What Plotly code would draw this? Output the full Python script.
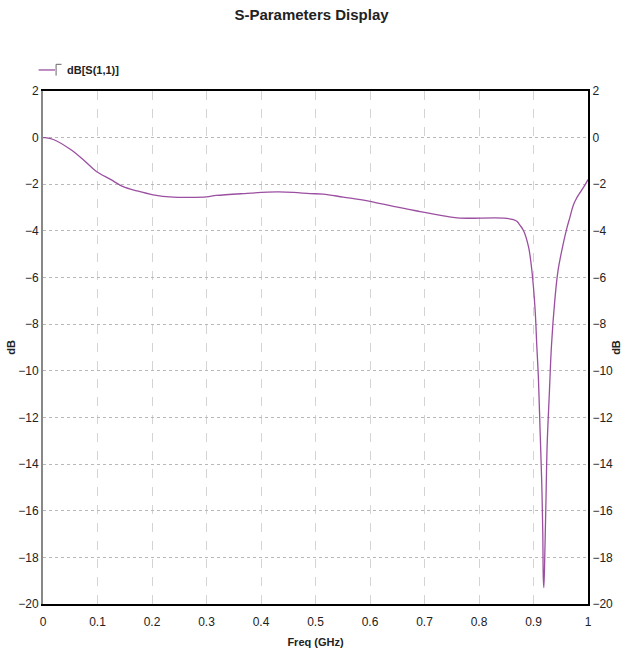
import plotly.graph_objects as go

freq = [0.0, 0.004, 0.019, 0.05, 0.074, 0.098, 0.123, 0.147, 0.172, 0.202, 0.239, 0.27, 0.3,
        0.318, 0.367, 0.429, 0.46, 0.49, 0.514, 0.551, 0.6, 0.643, 0.692, 0.741, 0.765,
        0.845, 0.863, 0.87, 0.875, 0.882, 0.891, 0.897, 0.903, 0.906, 0.909, 0.912, 0.915,
        0.917, 0.918, 0.919, 0.921, 0.923, 0.925, 0.929, 0.933, 0.939, 0.945, 0.955,
        0.961, 0.967, 0.973, 0.979, 0.994, 1.0]
s11_db = [0.0, 0.0, -0.08, -0.5, -0.95, -1.45, -1.78, -2.1, -2.28, -2.45, -2.55, -2.56, -2.54,
          -2.48, -2.4, -2.33, -2.35, -2.4, -2.42, -2.55, -2.73, -2.95, -3.17, -3.38, -3.45,
          -3.45, -3.52, -3.6, -3.75, -4.0, -4.7, -5.7, -7.4, -8.9, -10.3, -12.5, -14.7,
          -16.9, -18.9, -19.3, -17.6, -15.4, -13.2, -11.0, -8.9, -7.0, -5.7, -4.5,
          -3.9, -3.4, -2.9, -2.6, -2.05, -1.8]

x_ticks = [0, 0.1, 0.2, 0.3, 0.4, 0.5, 0.6, 0.7, 0.8, 0.9, 1.0]
x_labels = ["0", "0.1", "0.2", "0.3", "0.4", "0.5", "0.6", "0.7", "0.8", "0.9", "1"]
y_ticks = list(range(-20, 3, 2))
series_name = "dB[S(1,1)]"

FONT = "Liberation Sans, Arial, sans-serif"
LINE = "#9b4fa0"

fig = go.Figure()
fig.add_trace(go.Scatter(x=freq, y=s11_db, mode="lines", name=series_name,
                         line=dict(color=LINE, width=1.3), line_shape="spline", showlegend=False))
fig.add_trace(go.Scatter(x=[None], y=[None], yaxis="y2", showlegend=False, hoverinfo="skip"))

# manual legend (outside plot area without pushing margins)
fig.add_shape(type="line", xref="paper", yref="paper", x0=-0.008, x1=0.022, y0=1.041, y1=1.041,
              line=dict(color=LINE, width=1.3))
fig.add_shape(type="line", xref="paper", yref="paper", x0=0.024, x1=0.024, y0=1.030, y1=1.052,
              line=dict(color="#666", width=1))
fig.add_shape(type="line", xref="paper", yref="paper", x0=0.024, x1=0.034, y0=1.052, y1=1.052,
              line=dict(color="#666", width=1))
fig.add_annotation(xref="paper", yref="paper", x=0.040, y=1.041, xanchor="left", yanchor="middle",
                   text="<b>" + series_name + "</b>", showarrow=False,
                   font=dict(size=11, family=FONT, color="#222"))

fig.update_layout(
    width=623, height=656,
    margin=dict(l=43, r=35, t=91, b=52, autoexpand=False),
    paper_bgcolor="white", plot_bgcolor="white",
    font=dict(family=FONT, size=12, color="#222"),
    title=dict(text="<b>S-Parameters Display</b>", x=0.5, xanchor="center", y=0.985, yanchor="top",
               font=dict(size=15, family=FONT, color="#222")),
    showlegend=False,
    xaxis=dict(range=[0, 1], tickvals=x_ticks, ticktext=x_labels, showgrid=True,
               gridcolor="#d4d4d4", griddash="dash", gridwidth=1,
               showline=True, linecolor="black", linewidth=2, mirror=True,
               ticks="outside", ticklen=6, tickcolor="rgba(0,0,0,0)", zeroline=False, automargin=False,
               tickfont=dict(size=12),
               title=dict(text="<b>Freq (GHz)</b>", font=dict(size=11, family=FONT), standoff=10)),
    yaxis=dict(range=[-20, 2], tickvals=y_ticks, showgrid=True, gridcolor="#b8b8b8",
               griddash="dot", gridwidth=1, showline=True, linecolor="#888", linewidth=2,
               ticks="", zeroline=False, automargin=False, tickfont=dict(size=12),
               title=dict(text="<b>dB</b>", font=dict(size=11, family=FONT), standoff=0)),
    yaxis2=dict(range=[-20, 2], tickvals=y_ticks, overlaying="y", side="right",
                showgrid=False, showline=True, linecolor="black", linewidth=2, ticks="",
                zeroline=False, automargin=False, tickfont=dict(size=12),
                title=dict(text="<b>dB</b>", font=dict(size=11, family=FONT), standoff=0)),
)

fig.write_html("out.html")
